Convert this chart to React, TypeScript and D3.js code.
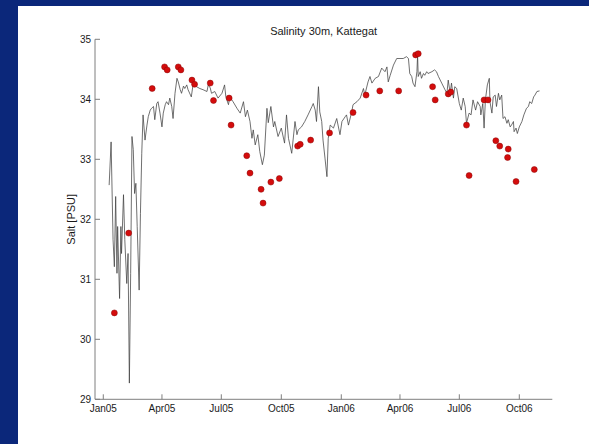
import React from "react";
import * as d3 from "d3";

// Daily salinity record at 30 m (days counted from 1 Jan 2005)
const lineDays = [
  9, 12, 15, 17, 19, 21, 22, 25, 27, 28, 31, 33, 36, 38, 40, 42, 44, 46, 48, 50,
  52, 55, 57, 59, 61, 64, 67, 69, 72, 74, 77, 79, 82, 84, 87, 90, 92, 95, 97, 100,
  102, 105, 107, 110, 113, 115,
  118, 120, 123, 125, 128, 130, 135, 138, 143, 148, 153, 159, 161, 164, 166, 171, 176, 182, 186, 188,
  192, 194, 199, 205, 210, 215, 218, 221, 225, 228, 230, 233, 237, 240, 244, 247, 251, 253, 257, 261,
  263, 268, 273, 278,
  281, 284, 289, 294, 297, 299, 304, 309, 314, 320, 322, 325, 327, 330, 332, 335, 337, 340, 343, 345,
  348, 353, 358, 363, 366, 371, 373, 376, 381, 383, 389, 394, 399, 401, 406, 409, 412, 417, 422, 427,
  432, 435,
  437, 440, 445, 450, 455, 460, 465, 468, 470, 473, 475, 478, 481, 482, 483, 486, 488, 491, 493, 496,
  498, 504, 508, 511, 514, 519, 524, 527, 529, 532, 534, 537, 539, 542, 546, 549, 552, 555, 557, 561,
  564, 567, 571, 574, 578,
  579, 582, 584, 586, 589, 592, 593, 596, 598, 601, 603, 606, 608, 611, 613, 616, 619, 621, 624, 626,
  629, 630, 633, 635, 638, 642, 645, 649, 652, 654, 657, 660, 662, 665, 669,
];

const lineSalt = [
  32.57, 33.29, 31.66, 31.21, 32.38, 31.1, 31.88, 30.68, 31.88, 31.43, 32.41, 31.66, 30.93, 31.43, 29.27, 31.1, 33.38, 33.16, 32.43, 32.6,
  31.88, 30.82, 32.1, 33.1, 33.74, 33.32, 33.57, 33.71, 33.82, 33.85, 33.88, 33.66, 33.93, 33.96, 33.77, 33.54, 33.77, 33.91, 33.96, 33.91,
  34.02, 33.88, 33.68, 34.1, 34.35, 34.29,
  34.16, 34.1, 34.22, 34.18, 34.24, 34.16, 34.04, 34.27, 34.21, 34.18, 34.16, 34.13, 34.24, 34.19, 34.1, 34.13, 34.02, 34.1, 34.24, 34.04,
  33.91, 34.04, 33.96, 33.85, 33.77, 33.96, 33.71, 33.82, 33.63, 33.35, 33.49, 33.24, 33.41, 33.13, 32.91, 33.07, 33.85, 33.61, 33.88, 33.54,
  33.63, 33.38, 33.52, 33.27,
  33.74, 33.35, 33.1, 33.63, 33.41, 33.49, 33.54, 33.63, 33.74, 33.88, 33.93, 33.82, 33.63, 34.21, 33.79, 33.63, 33.32, 33.02, 32.71, 33.35,
  33.57, 33.52, 33.68, 33.41, 33.63, 33.71, 33.74, 33.57, 33.79, 33.91, 33.96, 34.02, 34.18, 34.07, 34.29, 34.38, 34.27, 34.35, 34.38, 34.52,
  34.46, 34.54,
  34.29, 34.4, 34.57, 34.68, 34.68, 34.68, 34.71, 34.68, 34.43, 34.38, 34.27, 34.21, 34.46, 34.74, 34.38, 34.46, 34.35, 34.43, 34.4, 34.46,
  34.43, 34.46, 34.49, 34.46, 34.38, 34.27, 34.16, 34.1, 34.32, 34.1, 34.27, 34.02, 34.21, 34.18, 33.93, 33.82, 34.02, 33.88, 33.6, 33.77,
  33.74, 33.99, 33.82, 33.96, 33.88,
  33.74, 33.93, 33.52, 33.99, 34.24, 34.35, 33.96, 33.77, 34.04, 34.07, 33.88, 34.1, 33.99, 34.07, 33.68, 33.71, 33.6, 33.66, 33.54, 33.57,
  33.63, 33.46, 33.52, 33.43, 33.54, 33.63, 33.74, 33.85, 33.88, 33.96, 33.93, 34.04, 34.07, 34.13, 34.14,
];

// Bottle samples (days from 1 Jan 2005)
const sampleDays = [
  17, 39, 75, 94, 98, 115, 119, 136, 140, 164, 169, 193, 196, 220, 225, 242, 245, 257, 270, 298,
  302, 318, 347, 383, 403, 424, 453, 479, 483, 505, 509, 529, 533, 557, 561, 584, 590, 602, 608, 621,
  620, 633, 661,
];
const sampleSalt = [
  30.44, 31.77, 34.18, 34.54, 34.49, 34.54, 34.49, 34.32, 34.25, 34.27, 33.98, 34.02, 33.57, 33.06, 32.77, 32.5, 32.27, 32.62, 32.68, 33.22,
  33.25, 33.32, 33.44, 33.78, 34.07, 34.14, 34.14, 34.74, 34.76, 34.21, 33.99, 34.09, 34.12, 33.57, 32.73, 33.99, 33.99, 33.31, 33.22, 33.17,
  33.03, 32.63, 32.83,
];

const yTicks = [29, 30, 31, 32, 33, 34, 35];
const xDomainDays = [-12.7, 688.6];
const title = "Salinity 30m, Kattegat";
const yLabel = "Salt [PSU]";

const W = 589;
const H = 444;
const plot = { left: 95, right: 552.3, top: 39.3, bottom: 399.3 };
const FONT = "'Liberation Sans', Arial, Helvetica, sans-serif";

const epoch = Date.UTC(2005, 0, 1);
const toDate = (d: number) => new Date(epoch + d * 86400000);

export default function App() {
  const x = d3
    .scaleUtc()
    .domain(xDomainDays.map(toDate) as [Date, Date])
    .range([plot.left, plot.right]);
  const y = d3.scaleLinear().domain([29, 35]).range([plot.bottom, plot.top]);

  const xTicks = x.ticks(d3.utcMonth.every(3) as d3.TimeInterval);
  const fmt = d3.utcFormat("%b%y");

  const series = lineDays.map((d, i) => [toDate(d), lineSalt[i]] as [Date, number]);
  const line = d3
    .line<[Date, number]>()
    .x((p) => x(p[0]))
    .y((p) => y(p[1]));

  const axisColor = "#7f7f7f";
  const textColor = "#1a1a1a";

  return (
    <svg
      width={W}
      height={H}
      style={{ position: "absolute", left: 0, top: 0, display: "block" }}
    >
      <rect x={0} y={0} width={W} height={H} fill="#0b277a" />
      <rect x={18} y={6} width={W - 18} height={H - 6} fill="#ffffff" />

      {/* axes */}
      <line x1={plot.left} x2={plot.right} y1={plot.bottom} y2={plot.bottom} stroke={axisColor} strokeWidth={1} />
      <line x1={plot.left} x2={plot.left} y1={plot.top} y2={plot.bottom} stroke={axisColor} strokeWidth={1} />

      {yTicks.map((t) => (
        <g key={"y" + t}>
          <line x1={plot.left} x2={plot.left + 5} y1={y(t)} y2={y(t)} stroke={axisColor} strokeWidth={1} />
          <text
            x={plot.left - 4}
            y={y(t)}
            dy="0.35em"
            textAnchor="end"
            fontFamily={FONT}
            fontSize={10}
            fill={textColor}
          >
            {t}
          </text>
        </g>
      ))}

      {xTicks.map((t) => (
        <g key={"x" + t.getTime()}>
          <line x1={x(t)} x2={x(t)} y1={plot.bottom} y2={plot.bottom - 5} stroke={axisColor} strokeWidth={1} />
          <text
            x={x(t)}
            y={plot.bottom + 12.5}
            textAnchor="middle"
            fontFamily={FONT}
            fontSize={10}
            fill={textColor}
          >
            {fmt(t)}
          </text>
        </g>
      ))}

      {/* continuous record */}
      <path d={line(series) || ""} fill="none" stroke="#404040" strokeWidth={0.75} strokeLinejoin="round" />

      {/* samples */}
      {sampleDays.map((d, i) => (
        <circle
          key={"s" + i}
          cx={x(toDate(d))}
          cy={y(sampleSalt[i])}
          r={3}
          fill="#d40c0c"
          stroke="#8a0606"
          strokeWidth={0.5}
        />
      ))}

      <text
        x={(plot.left + plot.right) / 2}
        y={35}
        textAnchor="middle"
        fontFamily={FONT}
        fontSize={11}
        fill={textColor}
      >
        {title}
      </text>

      <text
        transform={`translate(75, ${(plot.top + plot.bottom) / 2}) rotate(-90)`}
        textAnchor="middle"
        fontFamily={FONT}
        fontSize={11}
        fill={textColor}
      >
        {yLabel}
      </text>
    </svg>
  );
}
